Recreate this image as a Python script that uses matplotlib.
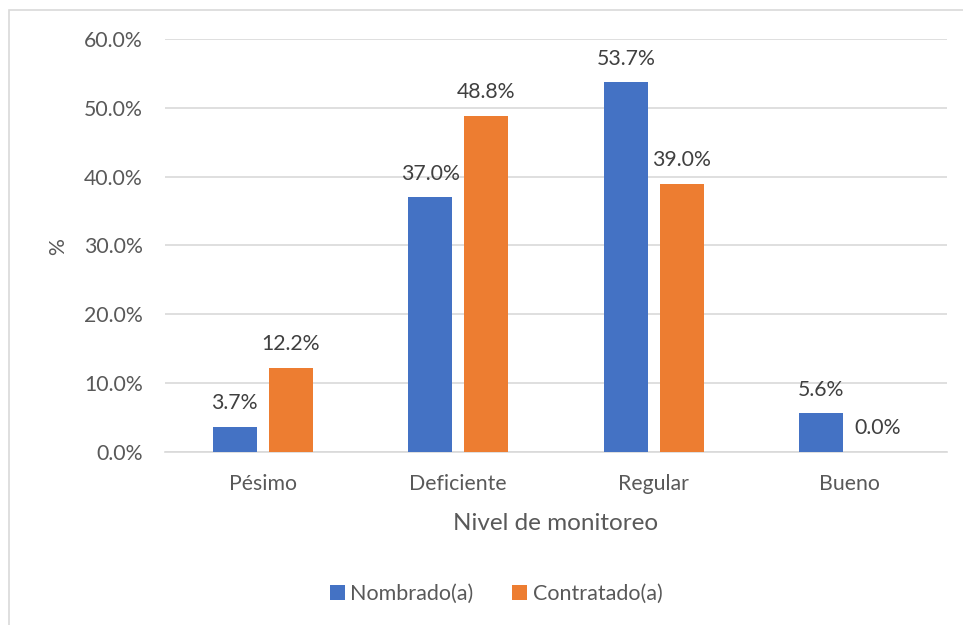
import numpy as np
import matplotlib.pyplot as plt
from matplotlib.patches import Rectangle

categories = ['Pésimo', 'Deficiente', 'Regular', 'Bueno']
nombrado = [3.7, 37.0, 53.7, 5.6]
contratado = [12.2, 48.8, 39.0, 0.0]
series_names = ['Nombrado(a)', 'Contratado(a)']
yticks = [0, 10, 20, 30, 40, 50, 60]

BLUE = '#4472C4'
ORANGE = '#ED7D31'
GRID = '#D9D9D9'
TICK_C = '#595959'
LABEL_C = '#404040'

plt.rcParams['font.family'] = ['Lato', 'DejaVu Sans']

fig = plt.figure(figsize=(9.63, 6.25), dpi=100)
ax = fig.add_axes([165 / 963, 1 - 452 / 625, (947 - 165) / 963, (452 - 39) / 625])

# light chart-area border (cropped on right/bottom like the original)
fig.patches.append(Rectangle((8.5 / 963, -0.05), 1.2, 1 - 10 / 625 + 0.05,
                             transform=fig.transFigure, fill=False,
                             edgecolor=GRID, linewidth=1.2))

x = np.arange(len(categories))
w = 0.225
off = 0.143
b1 = ax.bar(x - off, nombrado, w, color=BLUE, label=series_names[0], zorder=3)
b2 = ax.bar(x + off, contratado, w, color=ORANGE, label=series_names[1], zorder=3)

for bars, vals in ((b1, nombrado), (b2, contratado)):
    for r, v in zip(bars, vals):
        ax.annotate(f'{v:.1f}%', (r.get_x() + r.get_width() / 2, v),
                    xytext=(0, 17), textcoords='offset points',
                    ha='center', va='center', fontsize=15.3, color=LABEL_C)

ax.set_xlim(-0.5, len(categories) - 0.5)
ax.set_ylim(0, 60)
ax.set_yticks(yticks)
ax.set_yticklabels([f'{t:.1f}%' for t in yticks])
ax.set_xticks(x)
ax.set_xticklabels(categories)
ax.tick_params(axis='y', length=0, pad=16, labelsize=15.3, labelcolor=TICK_C)
ax.tick_params(axis='x', length=0, pad=16, labelsize=15.3, labelcolor=TICK_C)
ax.grid(axis='y', color=GRID, linewidth=1.2, zorder=0)
for s in ('top', 'right', 'left'):
    ax.spines[s].set_visible(False)
ax.spines['bottom'].set_color(GRID)
ax.spines['bottom'].set_linewidth(1.2)

fig.text(58 / 963, 1 - 247 / 625, '%', rotation=90, ha='center', va='center',
         fontsize=15.3, color=TICK_C)
fig.text(556 / 963, 1 - 523 / 625, 'Nivel de monitoreo', ha='center', va='center',
         fontsize=17.5, color=TICK_C)

leg = fig.legend(loc='center', bbox_to_anchor=(496 / 963, 1 - 594 / 625), ncol=2,
                 frameon=False, fontsize=15.5, handlelength=0.7, handleheight=0.7,
                 handletextpad=0.25, columnspacing=1.8)
for t in leg.get_texts():
    t.set_color(TICK_C)

fig.savefig('out.png', dpi=100)
